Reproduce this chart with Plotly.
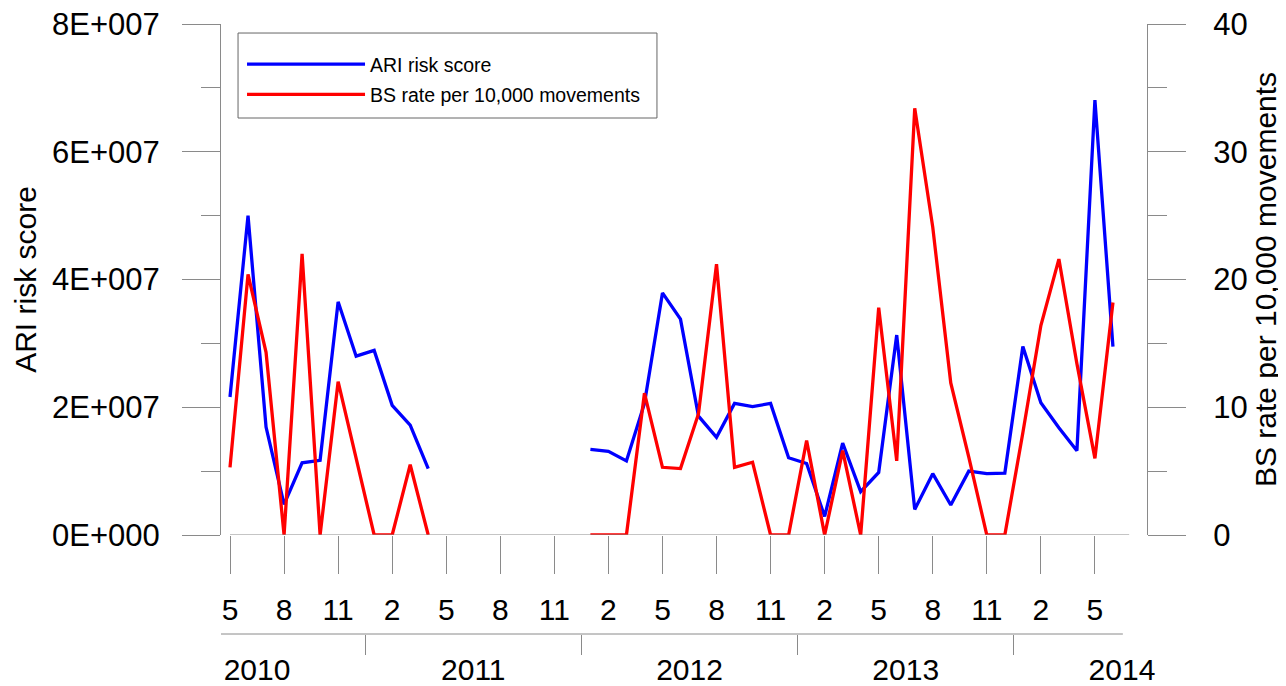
import plotly.graph_objects as go

# ---------------- data ----------------
start_year, start_month = 2010, 5
n_months = 50  # May 2010 .. Jun 2014

ari_risk_score = [
    21.6e6, 50.0e6, 16.9e6, 4.8e6, 11.3e6, 11.7e6, 36.5e6, 28.0e6, 28.9e6, 20.3e6, 17.2e6, 10.4e6,
    None, None, None, None, None, None, None, None,
    13.4e6, 13.1e6, 11.6e6, 20.6e6, 37.9e6, 33.8e6, 18.6e6, 15.3e6, 20.6e6, 20.1e6, 20.6e6, 12.1e6,
    11.2e6, 2.9e6, 14.4e6, 6.8e6, 9.8e6, 31.3e6, 4.0e6, 9.6e6, 4.7e6, 10.0e6, 9.6e6, 9.7e6,
    29.5e6, 20.7e6, 16.8e6, 13.2e6, 68.1e6, 29.5e6,
]
bs_rate = [
    5.3, 20.4, 14.3, 0.0, 22.0, 0.0, 12.0, 6.0, 0.0, 0.0, 5.5, 0.0,
    None, None, None, None, None, None, None, None,
    0.0, 0.0, 0.0, 11.1, 5.3, 5.2, 9.5, 21.2, 5.3, 5.7, 0.0, 0.0,
    7.4, 0.0, 6.6, 0.0, 17.8, 5.8, 33.4, 24.1, 11.9, 6.1, 0.0, 0.0,
    8.0, 16.4, 21.6, 13.4, 6.0, 18.2,
]
years = [2010, 2011, 2012, 2013, 2014]
left_tick_vals = [0, 2e7, 4e7, 6e7, 8e7]
left_tick_text = ["0E+000", "2E+007", "4E+007", "6E+007", "8E+007"]
left_minor_vals = [1e7, 3e7, 5e7, 7e7]
right_tick_vals = [0, 10, 20, 30, 40]
right_minor_vals = [5, 15, 25, 35]

# month index and calendar months
month_idx = list(range(n_months))
cal_month = [((start_month - 1 + i) % 12) + 1 for i in month_idx]

x_tick_vals = month_idx[::3]
x_tick_text = [str(cal_month[i]) for i in x_tick_vals]

# year separators (between Dec and Jan) and year centres
year_sep = [i - 0.5 for i in month_idx if cal_month[i] == 1]
year_centre = [(12 - start_month) - 5.5 + 12 * k for k in range(len(years))]

AX = "#8a8a8a"
FONT = "Liberation Sans, Arial, sans-serif"

fig = go.Figure()
fig.add_trace(go.Scatter(x=month_idx, y=ari_risk_score, mode="lines", name="ARI risk score",
                         legendgroup="a", line=dict(color="#0000ff", width=3.3),
                         connectgaps=False, yaxis="y"))
fig.add_trace(go.Scatter(x=month_idx, y=bs_rate, mode="lines", name="BS rate per 10,000 movements",
                         legendgroup="b", line=dict(color="#ff0000", width=3.3),
                         connectgaps=False, yaxis="y2"))
fig.add_trace(go.Scatter(x=[], y=[], xaxis="x2", yaxis="y", showlegend=False, hoverinfo="skip"))

x_range = [-0.5, 50.89]

# the page body adds an 8px offset, so the figure is 8px smaller and margins shifted
fig.update_layout(
    width=1278, height=678,
    margin=dict(l=213, r=139, t=16, b=52, autoexpand=False),
    paper_bgcolor="white", plot_bgcolor="white",
    font=dict(family=FONT, color="black"),
    showlegend=True,
    legend=dict(x=0.0227, y=0.9657, xanchor="left", yanchor="top",
                borderwidth=0, bgcolor="rgba(0,0,0,0)",
                font=dict(size=19.5, family=FONT), itemwidth=118,
                tracegroupgap=2),
    xaxis=dict(range=x_range, anchor="y", showgrid=False, zeroline=False, showline=False,
               automargin=False, ticklabeloverflow="allow",
               tickmode="array", tickvals=x_tick_vals, ticktext=x_tick_text,
               ticks="outside", ticklen=38, tickcolor=AX, tickwidth=1,
               ticklabelstandoff=10, tickfont=dict(size=30, family=FONT)),
    xaxis2=dict(range=x_range, overlaying="x", anchor="free", position=0, side="bottom",
                showgrid=False, zeroline=False, showline=False, automargin=False,
                ticklabeloverflow="allow",
                tickmode="array", tickvals=year_centre, ticktext=[str(y) for y in years],
                ticks="outside", ticklen=6, tickcolor="rgba(0,0,0,0)",
                ticklabelstandoff=3, tickfont=dict(size=30, family=FONT),
                minor=dict(tickmode="array", tickvals=year_sep, ticks="outside", ticklen=20,
                           tickcolor=AX, tickwidth=1, showgrid=False)),
    yaxis=dict(domain=[0.1623, 1], range=[0, 8e7], showgrid=False, zeroline=False,
               showline=True, linecolor=AX, linewidth=1, automargin=False,
               ticklabeloverflow="allow",
               tickmode="array", tickvals=left_tick_vals, ticktext=left_tick_text,
               ticks="outside", ticklen=38, tickcolor=AX, tickwidth=1,
               ticklabelstandoff=16, tickfont=dict(size=31, family=FONT),
               minor=dict(tickmode="array", tickvals=left_minor_vals, ticks="outside",
                          ticklen=19, tickcolor=AX, tickwidth=1, showgrid=False),
               title=dict(text="ARI risk score", font=dict(size=30, family=FONT), standoff=6)),
    yaxis2=dict(domain=[0.1623, 1], range=[0, 40], overlaying="y", side="right", anchor="x",
                showgrid=False, zeroline=False, showline=True, linecolor=AX, linewidth=1,
                automargin=False, ticklabeloverflow="allow",
                tickmode="array", tickvals=right_tick_vals,
                ticks="outside", ticklen=38, tickcolor=AX, tickwidth=1,
                ticklabelstandoff=21, tickfont=dict(size=31, family=FONT),
                minor=dict(tickmode="array", tickvals=right_minor_vals, ticks="outside",
                           ticklen=19, tickcolor=AX, tickwidth=1, showgrid=False),
                title=dict(text="BS rate per 10,000 movements", font=dict(size=30, family=FONT),
                           standoff=8)),
)

# legend frame
fig.add_shape(type="rect", xref="paper", yref="paper", x0=0.0184, x1=0.4708, y0=0.8459, y1=0.9852,
              line=dict(color="#666666", width=1), fillcolor="rgba(0,0,0,0)", layer="above")
# bottom month axis line and year axis line (drawn in data x coordinates)
fig.add_shape(type="line", xref="x", yref="y", x0=0, x1=49.9, y0=0, y1=0,
              line=dict(color=AX, width=1))
fig.add_shape(type="line", xref="x", yref="paper", x0=-0.9, x1=49.55, y0=0, y1=0,
              line=dict(color=AX, width=1))

fig.write_html("out.html")
